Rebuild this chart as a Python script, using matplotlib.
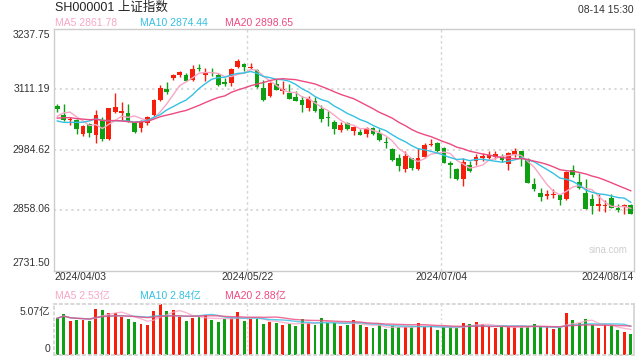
import numpy as np
import pandas as pd
import matplotlib
matplotlib.use("Agg")
import matplotlib.pyplot as plt

plt.rcParams['font.family'] = ['Liberation Sans', 'Noto Sans CJK SC', 'DejaVu Sans']

# closes before the window, only needed for the moving averages (03/07 - 04/02)
prev_close = [3027.40, 3046.02, 3068.46, 3055.94, 3043.83, 3038.23, 3054.64, 3084.93,
              3067.93, 3079.69, 3077.11, 3048.03, 3026.31, 3031.48, 2993.14, 3010.66,
              3041.17, 3077.38, 3074.96]

# daily candles 2024/04/03 - 2024/08/14
opens = [3076, 3058, 3046, 3048, 3017, 3038, 3016, 3046, 3008, 3063,
         3062, 3061, 3043, 3031, 3041, 3057, 3088, 3113, 3134, 3141,
         3142, 3130, 3157, 3142, 3147, 3142, 3126, 3125, 3158, 3165,
         3156, 3151, 3114, 3097, 3123, 3107, 3104, 3096, 3089, 3073,
         3087, 3071, 3054, 3043, 3026, 3040, 3024, 3021, 3017, 3031,
         3019, 3001, 2986, 2967, 2945, 2967, 2944, 2970, 2995, 2999,
         2988, 2957, 2944, 2923, 2953, 2961, 2967, 2968, 2969, 2972,
         2955, 2974, 2981, 2965, 2912, 2894, 2887, 2889, 2889, 2881,
         2942, 2916, 2893, 2882, 2867, 2867, 2883, 2862, 2865, 2868]
highs = [3081, 3080, 3053, 3050, 3036, 3040, 3069, 3053, 3073, 3104,
         3084, 3081, 3045, 3046, 3055, 3090, 3121, 3126, 3143, 3149,
         3146, 3163, 3164, 3157, 3156, 3145, 3135, 3156, 3174.27, 3167,
         3167, 3154, 3130, 3126, 3133, 3129, 3122, 3107, 3098, 3097,
         3096, 3078, 3066, 3047, 3043, 3043, 3035, 3029, 3033, 3033,
         3029, 3012, 2989, 2975, 2981, 2968, 2988, 2998, 3007, 3001,
         2991, 2961, 2947, 2968, 2961, 2975, 2978, 2981, 2981, 2976,
         2979, 2989, 2982, 2967, 2926, 2904, 2900, 2902, 2891, 2940,
         2952, 2935, 2923, 2891, 2891, 2880, 2891, 2871, 2871, 2870]
lows = [3064, 3045, 3036, 3017, 3013, 3012, 2998, 3003, 3005, 3061,
        3047, 3042, 3019, 3022, 3037, 3055, 3086, 3102, 3130, 3138,
        3129, 3129, 3149, 3128, 3140, 3119, 3119, 3119, 3157, 3150,
        3153, 3114, 3087, 3095, 3109, 3102, 3090, 3086, 3064, 3066,
        3063, 3043, 3034, 3018, 3022, 3026, 3015, 3015, 3012, 3015,
        3004, 2989, 2962, 2940, 2937, 2943, 2943, 2968, 2993, 2980,
        2956, 2925, 2921, 2909, 2938, 2953, 2962, 2965, 2966, 2958,
        2942, 2970, 2951, 2914, 2899, 2877, 2881, 2883, 2869, 2879,
        2928, 2903, 2860, 2850, 2857, 2855, 2862, 2855, 2850, 2850]
closes = [3069.30, 3047.05, 3048.54, 3027.34, 3034.25, 3019.47, 3057.38, 3007.07, 3071.38, 3074.22,
          3065.26, 3044.60, 3021.98, 3044.82, 3052.90, 3088.64, 3113.04, 3104.82, 3140.72, 3147.74,
          3128.48, 3154.32, 3154.55, 3148.02, 3145.77, 3119.90, 3122.40, 3154.03, 3171.15, 3157.97,
          3158.54, 3116.39, 3088.87, 3124.04, 3109.57, 3111.02, 3091.68, 3086.81, 3078.49, 3091.20,
          3065.40, 3048.79, 3051.28, 3028.05, 3037.47, 3028.92, 3032.63, 3015.89, 3030.25, 3018.05,
          3005.44, 2998.14, 2963.10, 2950.00, 2972.53, 2945.85, 2967.40, 2994.73, 2997.01, 2982.38,
          2957.57, 2952.00, 2922.45, 2959.37, 2939.36, 2970.39, 2971.30, 2974.01, 2976.30, 2962.90,
          2977.13, 2982.31, 2964.22, 2915.37, 2901.95, 2886.43, 2890.90, 2891.85, 2879.30, 2938.75,
          2932.39, 2905.34, 2860.70, 2867.28, 2869.90, 2869.83, 2862.19, 2858.20, 2867.95, 2850.65]
# volume, in 亿
volume = [3.65, 4.09, 3.38, 3.48, 3.48, 3.38, 4.60, 4.50, 4.19, 4.19,
          3.82, 3.59, 3.28, 3.11, 2.98, 4.40, 5.07, 4.36, 4.46, 3.79,
          3.38, 3.65, 3.79, 3.96, 3.48, 3.28, 3.62, 3.69, 4.30, 3.38,
          3.59, 3.59, 3.11, 3.28, 3.21, 3.01, 3.08, 2.88, 3.59, 3.15,
          3.01, 3.65, 3.21, 3.21, 2.88, 2.98, 3.45, 2.98, 2.74, 2.64,
          2.98, 2.54, 2.88, 2.77, 2.77, 2.77, 3.15, 2.81, 2.88, 2.44,
          2.77, 2.77, 2.71, 3.15, 3.04, 3.25, 3.04, 2.74, 2.64, 2.81,
          2.77, 2.77, 2.77, 2.77, 3.04, 2.77, 2.77, 2.54, 2.64, 4.16,
          3.45, 3.15, 3.55, 2.98, 2.64, 2.98, 2.84, 2.44, 2.33, 2.13]

date_labels = ['2024/04/03', '2024/05/22', '2024/07/04', '2024/08/14']
price_ticks = [2731.50, 2858.06, 2984.62, 3111.19, 3237.75]
# header readouts as shown on the chart
ma_price_text = ['MA5 2861.78', 'MA10 2874.44', 'MA20 2898.65']
ma_vol_text = ['MA5 2.53亿', 'MA10 2.84亿', 'MA20 2.88亿']

RED = '#f51f0c'
GREEN = '#0f9f12'
C_MA5 = '#f7a6c6'
C_MA10 = '#35c0e2'
C_MA20 = '#ec4a80'
GRID = '#d6d6d6'

n = len(closes)
x = np.arange(n)
o = np.array(opens)
c = np.array(closes)
up = c > o
cols = [RED if u else GREEN for u in up]

allc = pd.Series(prev_close + closes)
ma5 = allc.rolling(5).mean().values[-n:]
ma10 = allc.rolling(10).mean().values[-n:]
ma20 = allc.rolling(20).mean().values[-n:]
vs = pd.Series(volume)
vma5 = vs.rolling(5, min_periods=1).mean()
vma10 = vs.rolling(10, min_periods=1).mean()
vma20 = vs.rolling(20, min_periods=1).mean()

W, H = 640, 360


def fx(px):
    return px / W


def fy(py):
    return 1 - py / H


fig = plt.figure(figsize=(6.4, 3.6), dpi=100)
fig.patch.set_facecolor('white')

# ---- price panel
ax = fig.add_axes([fx(54), fy(270.5), fx(580), 241.5 / H])
ax.set_xlim(-0.5, n - 0.5)
ax.set_ylim(price_ticks[0], price_ticks[-1])
for lv in price_ticks[1:-1]:
    ax.axhline(lv, color=GRID, lw=1.3, ls=(0, (1.2, 2)), zorder=0)
for gx in [-0.5 + n / 3, -0.5 + 2 * n / 3]:
    ax.axvline(gx, color=GRID, lw=1, ls=(0, (2, 2)), zorder=0)

ax.vlines(x, lows, highs, colors=cols, lw=1, zorder=2)
body_lo = np.minimum(o, c)
body_h = np.maximum(np.abs(c - o), 1.3)
ax.bar(x, body_h, bottom=body_lo, width=0.72, color=cols, zorder=3)

ax.plot(x, ma5, color=C_MA5, lw=1, zorder=4)
ax.plot(x, ma10, color=C_MA10, lw=1, zorder=4)
ax.plot(x, ma20, color=C_MA20, lw=1, zorder=4)

ax.set_xticks([])
ax.set_yticks([])
for s in ax.spines.values():
    s.set_color('#cccccc')
    s.set_linewidth(1)

# y labels
ylab_y = [263, 209, 150, 89, 35]
for lv, py in zip(price_ticks, ylab_y):
    fig.text(fx(50), fy(py), f'{lv:.2f}', ha='right', va='center', fontsize=7.5, color='#333333')

# dates
fig.text(fx(54), fy(277), date_labels[0], ha='left', va='center', fontsize=7.5, color='#333333')
fig.text(fx(248), fy(277), date_labels[1], ha='center', va='center', fontsize=7.5, color='#333333')
fig.text(fx(441), fy(277), date_labels[2], ha='center', va='center', fontsize=7.5, color='#333333')
fig.text(fx(634), fy(277), date_labels[3], ha='right', va='center', fontsize=7.5, color='#333333')

fig.text(fx(628), fy(250), 'sina.com', ha='right', va='center', fontsize=7, color='#cfcfcf')

# header
fig.text(fx(55), fy(8), 'SH000001 上证指数', ha='left', va='center', fontsize=9, color='#222222')
fig.text(fx(634), fy(10), '08-14 15:30', ha='right', va='center', fontsize=7.5, color='#333333')
for txt, px, col in zip(ma_price_text, [55, 140, 225], [C_MA5, C_MA10, C_MA20]):
    fig.text(fx(px), fy(23), txt, ha='left', va='center', fontsize=7.5, color=col)

# ---- volume panel
vmax = max(volume)
av = fig.add_axes([fx(54), fy(355), fx(580), 51 / H])
av.set_xlim(-0.5, n - 0.5)
av.set_ylim(0, vmax)
for gx in [-0.5 + n / 3, -0.5 + 2 * n / 3]:
    av.axvline(gx, color=GRID, lw=1, ls=(0, (1.2, 2)), zorder=0)
av.bar(x, volume, width=0.45, color=cols, zorder=2)
av.plot(x, vma5, color=C_MA5, lw=1, alpha=0.8, zorder=3)
av.plot(x, vma10, color=C_MA10, lw=1, alpha=0.8, zorder=3)
av.plot(x, vma20, color=C_MA20, lw=1, alpha=0.8, zorder=3)
av.set_xticks([])
av.set_yticks([])
for k, s in av.spines.items():
    s.set_color(GRID)
    s.set_linewidth(1.3)
    if k != 'right':
        s.set_linestyle((0, (1.2, 2)))

fig.text(fx(50), fy(312), f'{vmax:.2f}亿', ha='right', va='center', fontsize=7.5, color='#333333')
fig.text(fx(50), fy(349), '0', ha='right', va='center', fontsize=7.5, color='#333333')
for txt, px, col in zip(ma_vol_text, [55, 140, 225], [C_MA5, C_MA10, C_MA20]):
    fig.text(fx(px), fy(296), txt, ha='left', va='center', fontsize=7.5, color=col)

fig.savefig('out.png', dpi=100)
